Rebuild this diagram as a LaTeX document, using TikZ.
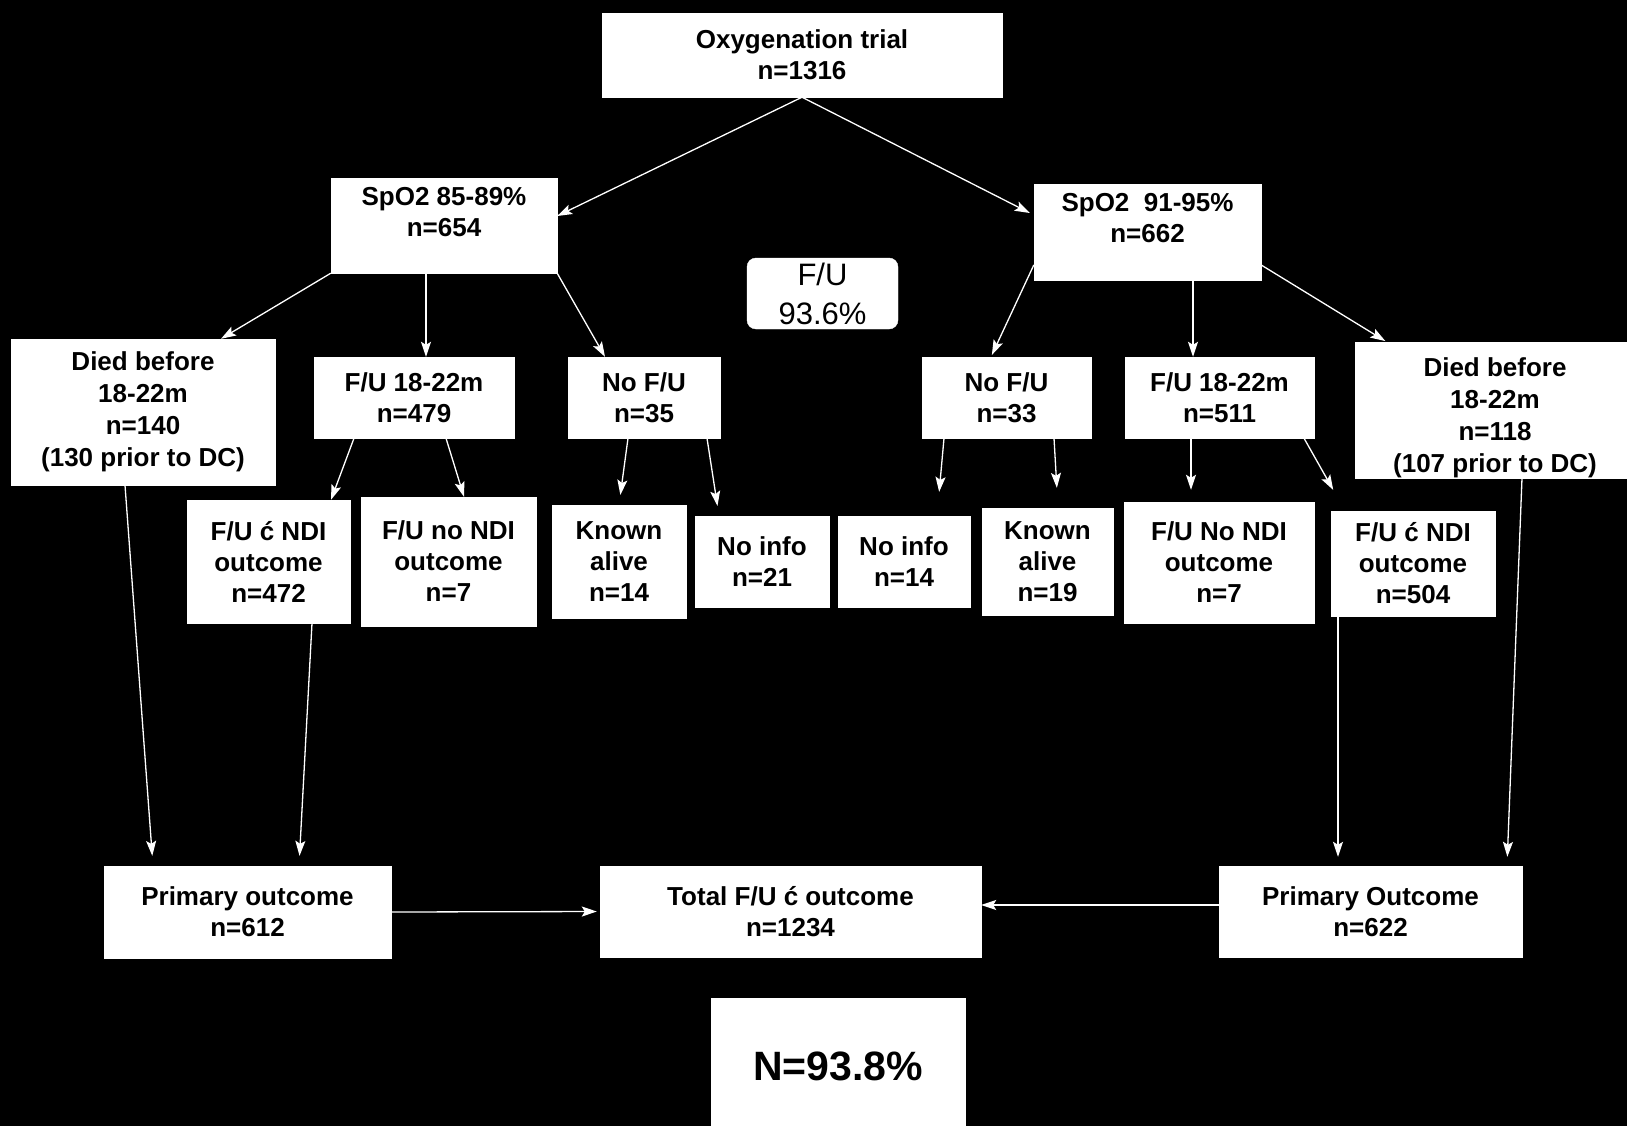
\documentclass[tikz,border=0pt]{standalone}
\usepackage{fontspec}
\setmainfont{Liberation Sans}
\usetikzlibrary{arrows.meta}
\begin{document}
\begin{tikzpicture}[x=1pt,y=-1pt,
  box/.style={fill=white, draw=white, inner sep=0pt, align=center,
    font=\fontsize{26}{31}\selectfont\bfseries, text=black},
  arr/.style={draw=white, line width=1.3pt,
    -{Stealth[length=15pt,width=10pt,inset=3pt,fill=white]}}]
\useasboundingbox (0,0) rectangle (1627,1126);
\fill[black] (0,0) rectangle (1627,1126);

% nodes
\node[box, minimum width=400pt, minimum height=84pt] (ox) at (802,55) {Oxygenation trial\\n=1316};
\node[box, minimum width=226pt, minimum height=95pt, text depth=28pt] (spl) at (444,225.5) {SpO2 85-89\%\\n=654};
\node[box, minimum width=227pt, minimum height=96pt, text depth=28pt] (spr) at (1147.5,232) {SpO2\ \ 91-95\%\\n=662};
\node[box, minimum width=151pt, minimum height=71pt, rounded corners=9pt,
  font=\fontsize{31}{39}\selectfont] (fu) at (822.5,293.5) {F/U\\93.6\%};
\node[box, minimum width=264pt, minimum height=146pt,
  font=\fontsize{26}{32}\selectfont\bfseries] (diedl) at (143,412) {Died before\\18-22m\\n=140\\(130 prior to DC)};
\node[box, minimum width=200pt, minimum height=81pt] (ful) at (414,397.5) {F/U 18-22m\\n=479};
\node[box, minimum width=152pt, minimum height=81pt] (nofl) at (644,397.5) {No F/U\\n=35};
\node[box, minimum width=169pt, minimum height=81pt] (nofr) at (1006.5,397.5) {No F/U\\n=33};
\node[box, minimum width=189pt, minimum height=81pt] (fur) at (1219.5,397.5) {F/U 18-22m\\n=511};
\node[box, minimum width=280pt, minimum height=134pt,
  font=\fontsize{26}{32}\selectfont\bfseries] (diedr) at (1495,410) {\rule{0pt}{34pt}Died before\\18-22m\\n=118\\(107 prior to DC)};
\node[box, minimum width=163pt, minimum height=123pt] (fucl) at (268.5,561.5) {F/U ć NDI\\outcome\\n=472};
\node[box, minimum width=175pt, minimum height=129pt] (funl) at (448.5,561.5) {F/U no NDI\\outcome\\n=7};
\node[box, minimum width=134pt, minimum height=113pt] (kal) at (619,561.5) {Known\\alive\\n=14};
\node[box, minimum width=134pt, minimum height=91pt] (nil) at (762,561.5) {No info\\n=21};
\node[box, minimum width=132pt, minimum height=91pt] (nir) at (904,561.5) {No info\\n=14};
\node[box, minimum width=131pt, minimum height=107pt] (kar) at (1047.5,561.5) {Known\\alive\\n=19};
\node[box, minimum width=190pt, minimum height=121pt] (funr) at (1219,562.5) {F/U No NDI\\outcome\\n=7};
\node[box, minimum width=164pt, minimum height=105pt] (fucr) at (1413,563.5) {F/U ć NDI\\outcome\\n=504};
\node[box, minimum width=287pt, minimum height=92pt] (pl) at (247.5,912) {Primary outcome\\n=612};
\node[box, minimum width=381pt, minimum height=91pt] (tot) at (790.5,911.5) {Total F/U ć outcome\\n=1234};
\node[box, minimum width=303pt, minimum height=91pt] (pr) at (1370.5,911.5) {Primary Outcome\\n=622};
\node[box, minimum width=254pt, minimum height=136pt,
  font=\fontsize{41}{49}\selectfont\bfseries] (nn) at (838,1066) {N=93.8\%};

% connectors
\draw[arr] (ox.south) -- ([yshift=9.5pt]spl.east);
\draw[arr] (ox.south) -- ([yshift=19pt,xshift=-4pt]spr.west);

\draw[arr] (spl.south west) -- ([xshift=78pt]diedl.north);
\draw[arr] ([xshift=-18pt]spl.south) -- ([xshift=12pt]ful.north);
\draw[arr] (spl.south east) -- ([xshift=-39pt]nofl.north);

\draw[arr, shorten >=2pt] ([yshift=-33pt]spr.west) -- ([xshift=-15.5pt]nofr.north);
\draw[arr] ([xshift=45.5pt]spr.south) -- ([xshift=-26.5pt]fur.north);
\draw[arr, shorten >=2pt] ([yshift=-33pt]spr.east) -- ([xshift=-108pt]diedr.north);

\draw[arr] ([xshift=-60pt]ful.south) -- ([xshift=62.5pt]fucl.north);
\draw[arr] ([xshift=32pt]ful.south) -- ([xshift=15.5pt]funl.north);
\draw[arr, shorten >=10pt] ([xshift=-16pt]nofl.south) -- (kal.north);
\draw[arr, shorten >=10pt] ([xshift=63pt]nofl.south) -- ([xshift=-43pt]nil.north);
\draw[arr, shorten >=24pt] ([xshift=-62.5pt]nofr.south) -- ([xshift=33pt]nir.north);
\draw[arr, shorten >=20pt] ([xshift=47.5pt]nofr.south) -- ([xshift=10.5pt]kar.north);
\draw[arr, shorten >=12pt] ([xshift=-28.5pt]fur.south) -- ([xshift=-28pt]funr.north);
\draw[arr, shorten >=24pt] ([xshift=84.5pt]fur.south) -- ([xshift=-68pt]fucr.north);

\draw[arr, shorten >=10pt] ([xshift=-18pt]diedl.south) -- ([xshift=-94.5pt]pl.north);
\draw[arr, shorten >=10pt] ([xshift=43.5pt]fucl.south) -- ([xshift=51.5pt]pl.north);
\draw[arr, shorten >=9pt] ([xshift=-75pt]fucr.south) -- ([xshift=-32.5pt]pr.north);
\draw[arr, shorten >=9pt] ([xshift=27pt]diedr.south) -- ([xshift=136.5pt]pr.north);

\draw[arr, shorten >=3pt] (pl.east) -- (tot.west);
\draw[arr] ([yshift=6.5pt]pr.west) -- ([yshift=6.5pt]tot.east);
\end{tikzpicture}
\end{document}
